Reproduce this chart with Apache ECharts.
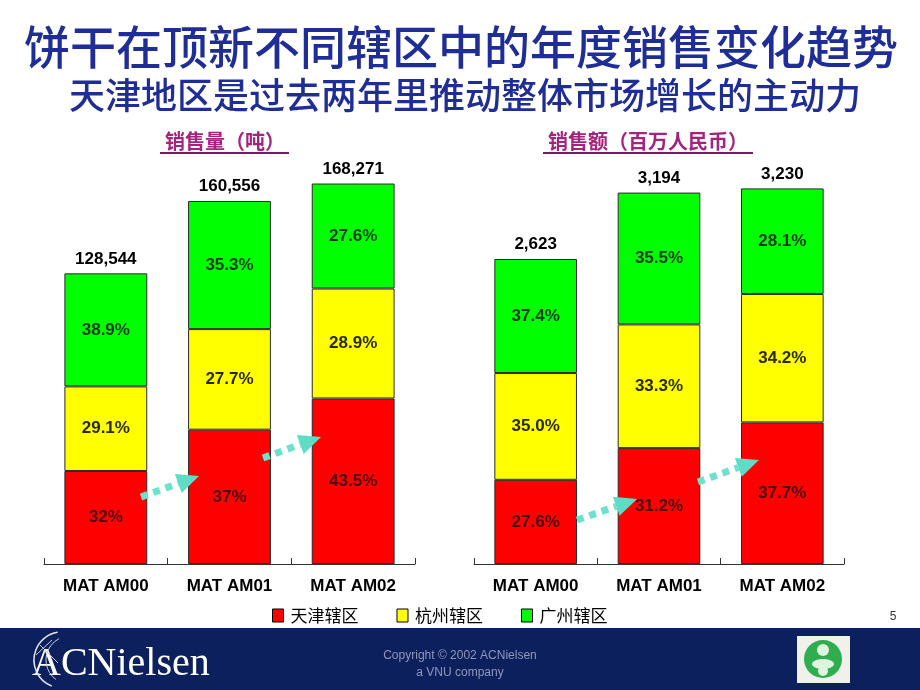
<!DOCTYPE html>
<html>
<head>
<meta charset="utf-8">
<script src="https://cdn.jsdelivr.net/npm/echarts@6/dist/echarts.min.js"></script>
<style>html,body{margin:0;padding:0;background:#fff;}#c{width:920px;height:690px;}</style>
</head>
<body>
<div id="c"></div>
<script>
// ---- data ----
var categories = ['MAT AM00', 'MAT AM01', 'MAT AM02'];
var seriesNames = ['天津辖区', '杭州辖区', '广州辖区'];
var volumeTotals = [128544, 160556, 168271];
var volumeTianjin = ['32', '37', '43.5'];
var volumeHangzhou = ['29.1', '27.7', '28.9'];
var volumeGuangzhou = ['38.9', '35.3', '27.6'];
var valueTotals = [2623, 3194, 3230];
var valueTianjin = ['27.6', '31.2', '37.7'];
var valueHangzhou = ['35.0', '33.3', '34.2'];
var valueGuangzhou = ['37.4', '35.5', '28.1'];
var titleText = '饼干在顶新不同辖区中的年度销售变化趋势';
var subtitleText = '天津地区是过去两年里推动整体市场增长的主动力';
var leftChartTitle = '销售量（吨）';
var rightChartTitle = '销售额（百万人民币）';

var colors = ['#ff0000', '#ffff00', '#00ff00'];
var labelColors = ['#4a0505', '#2a2a00', '#0b3a0b'];
var numFont = '"Liberation Sans", Arial, sans-serif';
var cjkFont = '"Noto Sans CJK SC", sans-serif';

function fmt(n) { return n.toString().replace(/\B(?=(\d{3})+(?!\d))/g, ','); }

function makeSeries(totals, pcts, idx) {
  var list = [];
  pcts.forEach(function (p, k) {
    list.push({
      name: seriesNames[k], type: 'bar', stack: 's' + idx,
      xAxisIndex: idx, yAxisIndex: idx, barCategoryGap: '33%',
      data: totals.map(function (t, i) { return t * parseFloat(p[i]) / 100; }),
      itemStyle: { color: colors[k], borderColor: '#2a2a2a', borderWidth: 1 },
      label: {
        show: true, position: 'inside',
        formatter: function (prm) { return p[prm.dataIndex] + '%'; },
        fontFamily: numFont, fontWeight: 'bold', fontSize: 17, color: labelColors[k]
      },
      emphasis: { disabled: true }, animation: false
    });
  });
  list.push({
    name: 'total' + idx, type: 'bar', stack: 's' + idx,
    xAxisIndex: idx, yAxisIndex: idx, barCategoryGap: '33%',
    data: totals.map(function () { return 0; }),
    itemStyle: { color: 'rgba(0,0,0,0)', borderWidth: 0 },
    label: {
      show: true, position: 'top', distance: 6,
      formatter: function (prm) { return fmt(totals[prm.dataIndex]); },
      fontFamily: numFont, fontWeight: 'bold', fontSize: 17, color: '#000'
    },
    emphasis: { disabled: true }, animation: false
  });
  return list;
}

function xAxisCfg(idx) {
  return {
    type: 'category', gridIndex: idx, data: categories,
    axisLine: { lineStyle: { color: '#333', width: 1 } },
    axisTick: { show: true, inside: true, length: 6, lineStyle: { color: '#333' } },
    axisLabel: { fontFamily: numFont, fontWeight: 'bold', fontSize: 17, color: '#000', margin: 14 }
  };
}
function yAxisCfg(idx, max) {
  return { type: 'value', gridIndex: idx, min: 0, max: max, show: false, splitLine: { show: false } };
}

function arrow(x1, y1, x2, y2) {
  var dx = x2 - x1, dy = y2 - y1, len = Math.sqrt(dx * dx + dy * dy);
  var ux = dx / len, uy = dy / len, hl = 22, hw = 10;
  var bx = x2 - ux * hl, by = y2 - uy * hl;
  return [
    { type: 'line', z: 50, shape: { x1: x1, y1: y1, x2: bx, y2: by },
      style: { stroke: '#6fe0cc', lineWidth: 7, lineDash: [7, 6] }, silent: true },
    { type: 'polygon', z: 50, shape: { points: [[x2, y2], [bx - uy * hw, by + ux * hw], [bx + uy * hw, by - ux * hw]] },
      style: { fill: '#5fdcc6' }, silent: true }
  ];
}

var graphics = [
  { type: 'text', style: { text: titleText, x: 461, y: 47, align: 'center', verticalAlign: 'middle',
      font: '500 46px ' + cjkFont, fill: '#1f2d96' } },
  { type: 'text', style: { text: subtitleText, x: 465, y: 95, align: 'center', verticalAlign: 'middle',
      font: '500 36px ' + cjkFont, fill: '#1f2d96' } },
  { type: 'text', style: { text: leftChartTitle, x: 225, y: 141, align: 'center', verticalAlign: 'middle',
      font: 'bold 20px ' + cjkFont, fill: '#a3237d', textShadowColor: 'rgba(70,10,50,0.6)', textShadowOffsetX: 1, textShadowOffsetY: 1 } },
  { type: 'line', shape: { x1: 160, y1: 153, x2: 289, y2: 153 }, style: { stroke: '#7a1a5e', lineWidth: 2 } },
  { type: 'text', style: { text: rightChartTitle, x: 648, y: 141, align: 'center', verticalAlign: 'middle',
      font: 'bold 20px ' + cjkFont, fill: '#a3237d', textShadowColor: 'rgba(70,10,50,0.6)', textShadowOffsetX: 1, textShadowOffsetY: 1 } },
  { type: 'line', shape: { x1: 543, y1: 153, x2: 753, y2: 153 }, style: { stroke: '#7a1a5e', lineWidth: 2 } },
  { type: 'text', style: { text: '5', x: 893, y: 617, align: 'center', verticalAlign: 'middle',
      font: '12px ' + numFont, fill: '#333' } },
  // footer
  { type: 'rect', shape: { x: 0, y: 628, width: 920, height: 62 }, style: { fill: '#0d205e' }, silent: true },
  { type: 'text', style: { text: 'ACNielsen', x: 32, y: 664, align: 'left', verticalAlign: 'middle',
      font: '40px "Liberation Serif", "DejaVu Serif", serif', fill: '#ffffff' } },
  { type: 'arc', shape: { cx: 62, cy: 660, r: 28, startAngle: Math.PI * 0.62, endAngle: Math.PI * 1.45 },
    style: { stroke: '#dfe4f0', lineWidth: 1.5, fill: null } },
  { type: 'arc', shape: { cx: 70, cy: 660, r: 24, startAngle: Math.PI * 0.7, endAngle: Math.PI * 1.35 },
    style: { stroke: '#c8cfe2', lineWidth: 1, fill: null } },
  { type: 'line', shape: { x1: 40, y1: 645, x2: 58, y2: 663 }, style: { stroke: '#c8cfe2', lineWidth: 1 } },
  { type: 'line', shape: { x1: 36, y1: 655, x2: 52, y2: 640 }, style: { stroke: '#c8cfe2', lineWidth: 1 } },
  { type: 'text', style: { text: 'Copyright © 2002 ACNielsen', x: 460, y: 656, align: 'center', verticalAlign: 'middle',
      font: '12px ' + numFont, fill: '#8f98b8' } },
  { type: 'text', style: { text: 'a VNU company', x: 460, y: 673, align: 'center', verticalAlign: 'middle',
      font: '12px ' + numFont, fill: '#8f98b8' } },
  { type: 'rect', shape: { x: 797, y: 636, width: 53, height: 47 }, style: { fill: '#f1f1ec' } },
  { type: 'circle', shape: { cx: 823, cy: 659, r: 19 }, style: { fill: '#2fae4f' } },
  { type: 'circle', shape: { cx: 823, cy: 650, r: 6 }, style: { fill: '#dff3df' } },
  { type: 'ellipse', shape: { cx: 823, cy: 664, rx: 11, ry: 5 }, style: { fill: '#dff3df' } },
  { type: 'circle', shape: { cx: 823, cy: 671, r: 5 }, style: { fill: '#dff3df' } }
];
graphics = graphics
  .concat(arrow(141, 497, 199, 476))
  .concat(arrow(263, 458, 321, 437))
  .concat(arrow(577, 520, 637, 499))
  .concat(arrow(698, 482, 759, 460));

var chart = echarts.init(document.getElementById('c'), null, { renderer: 'canvas' });
chart.setOption({
  backgroundColor: '#ffffff',
  animation: false,
  grid: [
    { left: 44, top: 157, width: 371, height: 407 },
    { left: 474, top: 157, width: 370, height: 407 }
  ],
  xAxis: [xAxisCfg(0), xAxisCfg(1)],
  yAxis: [yAxisCfg(0, 180000), yAxisCfg(1, 3500)],
  legend: {
    data: seriesNames, left: 272, top: 607, padding: 0, icon: 'rect', itemWidth: 11, itemHeight: 13, itemGap: 38,
    itemStyle: { borderColor: '#000', borderWidth: 1 },
    textStyle: { fontFamily: cjkFont, fontSize: 17, color: '#000', padding: [0, 0, 0, 2] },
    selectedMode: false, z: 60
  },
  series: makeSeries(volumeTotals, [volumeTianjin, volumeHangzhou, volumeGuangzhou], 0)
    .concat(makeSeries(valueTotals, [valueTianjin, valueHangzhou, valueGuangzhou], 1)),
  graphic: graphics
});
</script>
</body>
</html>
